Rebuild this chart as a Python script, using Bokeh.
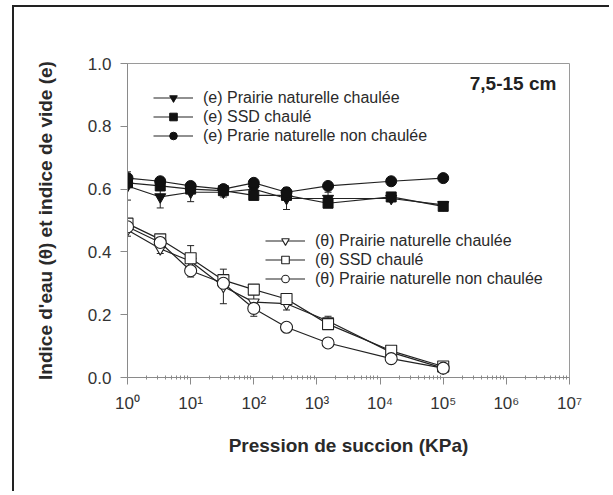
from bokeh.plotting import figure
from bokeh.models import (ColumnDataSource, Range1d, FixedTicker, Legend, LegendItem,
                          Whisker, TeeHead, Label, NumeralTickFormatter)
from bokeh.embed import file_html
from bokeh.resources import INLINE

# ---------------- data ----------------
suction = [1, 3.3, 10, 33, 100, 330, 1500, 15000, 100000]

e_pn_chaulee = [0.61, 0.575, 0.59, 0.59, 0.60, 0.57, 0.57, 0.57, 0.55]
e_pn_chaulee_err = [0.045, 0.035, 0.03, 0.015, 0.02, 0.035, 0.02, 0.01, 0.01]
e_ssd_chaule = [0.62, 0.61, 0.60, 0.595, 0.58, 0.58, 0.555, 0.575, 0.545]
e_pn_non = [0.635, 0.625, 0.61, 0.60, 0.62, 0.59, 0.61, 0.625, 0.635]

t_pn_chaulee = [0.47, 0.41, 0.37, 0.29, 0.24, 0.235, 0.18, 0.08, 0.03]
t_pn_chaulee_err = [0.02, 0.015, 0.05, 0.055, 0.045, 0.02, 0.015, 0.01, 0.005]
t_ssd_chaule = [0.49, 0.44, 0.38, 0.31, 0.28, 0.25, 0.17, 0.085, 0.035]
t_pn_non = [0.48, 0.43, 0.34, 0.30, 0.22, 0.16, 0.11, 0.06, 0.03]

e_labels = ["(e) Prairie naturelle chaulée", "(e) SSD chaulé", "(e) Prarie naturelle non chaulée"]
t_labels = ["(θ) Prairie naturelle chaulée", "(θ) SSD chaulé", "(θ) Prairie naturelle non chaulée"]

x_ticks = [1, 10, 100, 1000, 10000, 100000, 1000000, 10000000]
x_tick_labels = ["10⁰", "10¹", "10²", "10³", "10⁴", "10⁵", "10⁶", "10⁷"]
y_ticks = [0.0, 0.2, 0.4, 0.6, 0.8, 1.0]
y_tick_labels = ["0.0", "0.2", "0.4", "0.6", "0.8", "1.0"]

x_title = "Pression de succion (KPa)"
y_title = "Indice d'eau (θ) et indice de vide (e)"
depth_label = "7,5-15 cm"

# ---------------- figure ----------------
FONT = "Liberation Sans"
p = figure(x_axis_type="log", x_range=Range1d(1, 1e7), y_range=Range1d(0, 1),
           width=597, height=486, output_backend="svg", toolbar_location=None,
           min_border_left=113, min_border_right=42, min_border_top=56, min_border_bottom=116)
p.styles = {"border-top": "2px solid #222", "border-left": "2px solid #222",
            "margin-left": "12px", "margin-top": "5px"}
p.grid.visible = False
p.outline_line_color = "#9a9a9a"
p.background_fill_color = "white"
p.border_fill_color = "white"

x_minor = [m * 10 ** k for k in range(7) for m in range(2, 10)]
p.xaxis.ticker = FixedTicker(ticks=x_ticks, minor_ticks=x_minor)
p.xaxis.major_label_overrides = dict(zip(x_ticks, x_tick_labels))
p.yaxis.ticker = FixedTicker(ticks=y_ticks)
p.yaxis.formatter = NumeralTickFormatter(format="0.0")
p.yaxis.major_label_overrides = dict(zip(y_ticks, y_tick_labels))

for ax in (p.xaxis, p.yaxis):
    ax.axis_line_color = "#8a8a8a"
    ax.major_tick_line_color = "#8a8a8a"
    ax.minor_tick_line_color = "#8a8a8a"
    ax.major_tick_out = 7
    ax.major_tick_in = 0
    ax.major_label_text_font = FONT
    ax.major_label_text_font_size = "17px"
    ax.major_label_text_color = "#333333"
    ax.major_label_standoff = 9
    ax.axis_label_text_font = FONT
    ax.axis_label_text_font_size = "19px"
    ax.axis_label_text_font_style = "bold"
    ax.axis_label_text_color = "#2a2a2a"
p.xaxis.minor_tick_in = 2
p.xaxis.minor_tick_out = 2
p.yaxis.minor_tick_line_color = None
p.xaxis.axis_label = x_title
p.yaxis.axis_label = y_title
p.xaxis.axis_label_standoff = 19
p.yaxis.axis_label_standoff = 29

src = ColumnDataSource(dict(
    x=suction,
    e1=e_pn_chaulee, e1_lo=[v - d for v, d in zip(e_pn_chaulee, e_pn_chaulee_err)],
    e1_hi=[v + d for v, d in zip(e_pn_chaulee, e_pn_chaulee_err)],
    e2=e_ssd_chaule, e3=e_pn_non,
    t1=t_pn_chaulee, t1_lo=[v - d for v, d in zip(t_pn_chaulee, t_pn_chaulee_err)],
    t1_hi=[v + d for v, d in zip(t_pn_chaulee, t_pn_chaulee_err)],
    t2=t_ssd_chaule, t3=t_pn_non,
))

for lo, hi in (("e1_lo", "e1_hi"), ("t1_lo", "t1_hi")):
    w = Whisker(source=src, base="x", lower=lo, upper=hi, line_color="#222", line_width=1,
                upper_head=TeeHead(size=7, line_color="#222"),
                lower_head=TeeHead(size=7, line_color="#222"))
    p.add_layout(w)

LW = 1.2
e_items, t_items = [], []
series_e = [("e1", "inverted_triangle", 11), ("e2", "square", 10), ("e3", "circle", 11)]
for (col, mk, sz), lab in zip(series_e, e_labels):
    l = p.line("x", col, source=src, line_color="#222", line_width=LW)
    s = p.scatter("x", col, source=src, marker=mk, size=sz, fill_color="#111", line_color="#111")
    e_items.append(LegendItem(label=lab, renderers=[l, s]))

series_t = [("t1", "inverted_triangle", 11), ("t2", "square", 11), ("t3", "circle", 12)]
for (col, mk, sz), lab in zip(series_t, t_labels):
    l = p.line("x", col, source=src, line_color="#222", line_width=LW)
    s = p.scatter("x", col, source=src, marker=mk, size=sz, fill_color="white",
                  line_color="#222", line_width=1.1)
    t_items.append(LegendItem(label=lab, renderers=[l, s]))

def make_legend(items, loc):
    lg = Legend(items=items, location=loc, padding=0, margin=0, spacing=0,
                glyph_width=40, glyph_height=19, label_height=19, label_standoff=10,
                label_text_font=FONT, label_text_font_size="16px", label_text_color="#2a2a2a",
                border_line_color=None, background_fill_alpha=0)
    return lg

p.add_layout(make_legend(e_items, (26, 232)))
p.add_layout(make_legend(t_items, (138, 89)))

p.add_layout(Label(x=6.2e6, y=0.936, text=depth_label, text_align="right", text_baseline="middle",
                   text_font=FONT, text_font_size="19px", text_font_style="bold",
                   text_color="#222"))

open("out.html", "w").write(file_html(p, INLINE))
